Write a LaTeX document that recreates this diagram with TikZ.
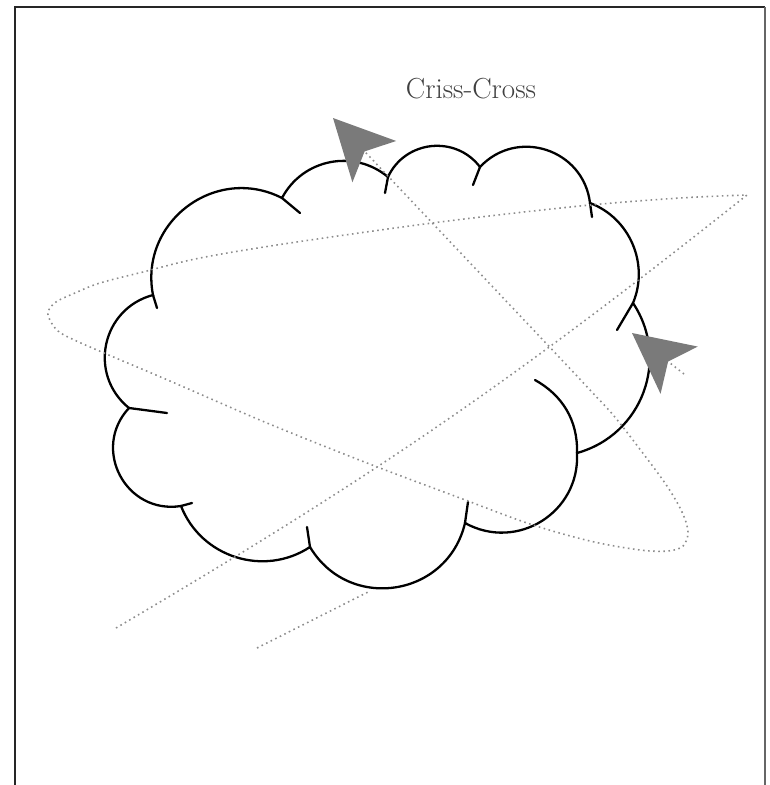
\documentclass[tikz,border=0pt]{standalone}
\usetikzlibrary{arrows.meta}
\begin{document}
\begin{tikzpicture}[x=0.02cm,y=-0.02cm,
  puffline/.style={line width=1.3pt, draw=black, line cap=round},
  trail/.style={draw=black!45, line width=0.9pt, dotted},
  tipend/.style={-{Stealth[length=1.2cm,width=1.2cm,inset=0.28cm,color=black!52]}},
  framel/.style={line width=1.7pt, draw=black!85}]
\useasboundingbox (0,0) rectangle (769,785);
% frame
\draw[framel] (15,785) -- (15,7) -- (765,7);
\draw[framel, draw=black!60] (765,7) -- (765,785);
% title
\node[text=black!75, font=\fontsize{16.5}{19}\selectfont] (title) at (471,89) {Criss-Cross};
% cloud cusps
\coordinate (c1) at (282,198);
\coordinate (c2) at (388,177);
\coordinate (c3) at (480,167);
\coordinate (c4) at (590,203);
\coordinate (c5) at (633,303);
\coordinate (c6) at (577,453);
\coordinate (c7) at (465,523);
\coordinate (c8) at (310,547);
\coordinate (c9) at (181,506);
\coordinate (c10) at (129,408);
\coordinate (c11) at (153,295);
\draw[puffline] (c1) to[bend left=51, looseness=1.05] (c2)
  to[bend left=59, looseness=1.12] (c3)
  to[bend left=65, looseness=1.2] (c4)
  to[bend left=46] (c5)
  to[bend left=54, looseness=1.08] (c6)
  to[bend left=61, looseness=1.15] (c7)
  to[bend left=68, looseness=1.24] (c8)
  to[bend left=51, looseness=1.04] (c9)
  to[bend left=71, looseness=1.29] (c10)
  to[bend left=63, looseness=1.18] (c11)
  to[bend left=64, looseness=1.18] (c1);
% puff tails
\draw[puffline] (c1) -- ++(18,15);
\draw[puffline] (c2) -- ++(-3,16);
\draw[puffline] (c3) -- ++(-7,18);
\draw[puffline] (c4) -- ++(2,14);
\draw[puffline] (c5) -- ++(-16,27);
\draw[puffline] (c6) .. controls (578,420) and (562,395) .. (535,380);
\draw[puffline] (c7) -- ++(3,-21);
\draw[puffline] (c8) -- ++(-3,-20);
\draw[puffline] (c9) -- ++(11,-3);
\draw[puffline] (c10) -- ++(38,5);
\draw[puffline] (c11) -- ++(4,13);
% first trail: line, loop, arrow
\coordinate (s1) at (116,628);
\coordinate (k1) at (747,195);
\coordinate (e1) at (333,118);
\draw[trail, tipend] (s1) to[bend right=4] (k1)
  -- plot[smooth, tension=0.55] coordinates {(747,195) (680,198) (580,206) (440,222)
   (290,243) (200,258) (143,272) (100,283) (75,293) (56,302) (48,312) (51,322)
   (58,331) (70,338) (97,350) (170,381) (267,423) (367,463) (460,498) (530,524)
   (590,541) (640,550) (668,551) (683,546) (688,532) (682,512) (667,486)
   (642,452) (614,416) (590,390) (560,358)}
  -- (e1);
% second trail
\coordinate (s2) at (257,648);
\coordinate (m2) at (368,592);
\draw[trail] (s2) -- (m2);
% right arrow
\coordinate (s3) at (684,374);
\coordinate (e3) at (632,333);
\draw[trail, tipend] (s3) -- (e3);
\end{tikzpicture}
\end{document}
